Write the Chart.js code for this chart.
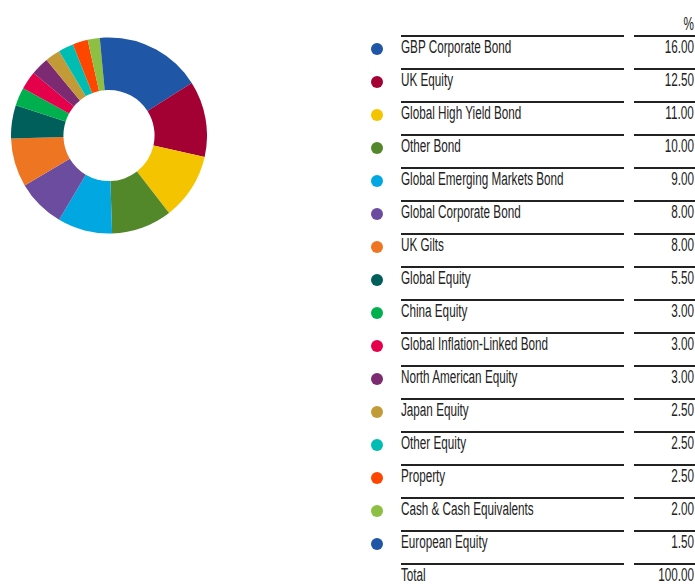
<!DOCTYPE html>
<html>
<head>
<meta charset="utf-8">
<script src="https://cdn.jsdelivr.net/npm/chart.js@4/dist/chart.umd.min.js"></script>
<style>
  html, body { margin: 0; padding: 0; background: #fff; }
  body { width: 695px; height: 584px; position: relative; overflow: hidden;
         font-family: "Liberation Sans", Arial, sans-serif; color: #222; }
  #chartBox { position: absolute; left: 11px; top: 37px; width: 196px; height: 197px; }
  .line { position: absolute; height: 0; border-top: 2px solid #222; }
  .lbl, .val { position: absolute; font-size: 18px; line-height: 16px; white-space: nowrap; }
  .lbl { transform: scaleX(0.65); transform-origin: left center; }
  .val { transform: scaleX(0.65); transform-origin: right center; text-align: right; }
  .dot { position: absolute; width: 12px; height: 12px; border-radius: 50%; }
</style>
</head>
<body>
<div id="chartBox"><canvas id="c"></canvas></div>
<div id="table"></div>
<script>
const categories = [
  "GBP Corporate Bond", "UK Equity", "Global High Yield Bond", "Other Bond",
  "Global Emerging Markets Bond", "Global Corporate Bond", "UK Gilts", "Global Equity",
  "China Equity", "Global Inflation-Linked Bond", "North American Equity", "Japan Equity",
  "Other Equity", "Property", "Cash & Cash Equivalents", "European Equity"
];
const values = [16.00, 12.50, 11.00, 10.00, 9.00, 8.00, 8.00, 5.50, 3.00, 3.00, 3.00, 2.50, 2.50, 2.50, 2.00, 1.50];
const colors = [
  "#1f56a5", "#a30034", "#f5c400", "#53882a", "#00a7e1", "#6b4c9e", "#ee7623", "#005e5b",
  "#00b04f", "#e4004b", "#7c2a72", "#c29b38", "#00bdb3", "#ff4600", "#8cbf42", "#1f56a5"
];
const headerLabel = "%";
const totalLabel = "Total";
const totalValue = "100.00";

new Chart(document.getElementById("c"), {
  type: "doughnut",
  data: {
    labels: categories,
    datasets: [{ data: values, backgroundColor: colors, borderWidth: 0 }]
  },
  options: {
    responsive: true,
    maintainAspectRatio: false,
    animation: false,
    cutout: "46.5%",
    layout: { padding: 0 },
    plugins: { legend: { display: false }, tooltip: { enabled: false } }
  }
});

// Legend table built from the arrays
const table = document.getElementById("table");
const firstLine = 35, rowH = 33;
function add(cls, style, text) {
  const d = document.createElement("div");
  d.className = cls;
  Object.assign(d.style, style);
  if (text !== undefined) d.textContent = text;
  table.appendChild(d);
  return d;
}
add("val", { right: "1px", top: (firstLine - 19) + "px" }, headerLabel);
const rows = categories.map((c, i) => ({ label: c, value: values[i].toFixed(2), color: colors[i] }));
rows.push({ label: totalLabel, value: totalValue, color: null });
rows.forEach((r, k) => {
  const ly = firstLine + rowH * k;
  add("line", { left: "401px", width: "223px", top: ly + "px" });
  add("line", { left: "634px", width: "61px", top: ly + "px" });
  add("lbl", { left: "401px", top: (ly + 4) + "px" }, r.label);
  add("val", { right: "1px", top: (ly + 4) + "px" }, r.value);
  if (r.color) add("dot", { left: "371px", top: (ly + 8) + "px", background: r.color });
});
</script>
</body>
</html>
